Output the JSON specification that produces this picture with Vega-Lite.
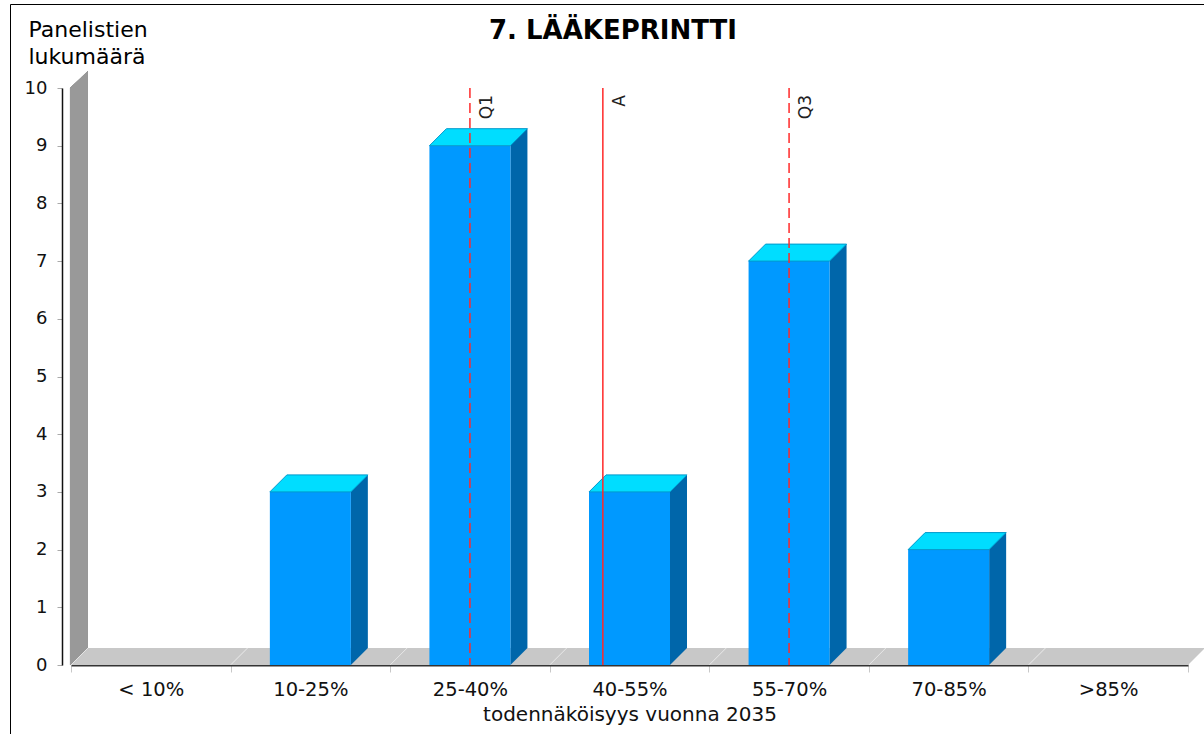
{
  "$schema": "https://vega.github.io/schema/vega-lite/v6.json",
  "width": 1200,
  "height": 740,
  "autosize": {"type": "none"},
  "padding": {"left": 10, "top": 4, "right": 0, "bottom": 0},
  "background": "white",
  "config": {
    "view": {"stroke": "#000000", "strokeWidth": 1, "fill": "white"},
    "font": "DejaVu Sans"
  },
  "title": {
    "text": "7. LÄÄKEPRINTTI",
    "font": "DejaVu Sans",
    "fontSize": 26,
    "fontWeight": "bold",
    "color": "#000000",
    "anchor": "middle",
    "frame": "group",
    "baseline": "alphabetic",
    "offset": -61,
    "dx": 3
  },
  "datasets": {
    "jakauma": [
      {"cat": "< 10%", "n": 0},
      {"cat": "10-25%", "n": 3},
      {"cat": "25-40%", "n": 9},
      {"cat": "40-55%", "n": 3},
      {"cat": "55-70%", "n": 7},
      {"cat": "70-85%", "n": 2},
      {"cat": ">85%", "n": 0}
    ],
    "tunnusluvut": [
      {"label": "Q1", "pos": 2.5, "tyyppi": "kvartiili"},
      {"label": "A", "pos": 3.333, "tyyppi": "keskiarvo"},
      {"label": "Q3", "pos": 4.5, "tyyppi": "kvartiili"}
    ]
  },
  "layer": [
    {
      "data": {"name": "jakauma"},
      "encoding": {
        "x": {
          "field": "cat",
          "type": "nominal",
          "sort": null,
          "scale": {
            "domain": ["< 10%", "10-25%", "25-40%", "40-55%", "55-70%", "70-85%", ">85%"],
            "range": [61, 1178],
            "paddingInner": 0,
            "paddingOuter": 0
          },
          "axis": {
            "orient": "bottom",
            "offset": -79,
            "title": "todennäköisyys vuonna 2035",
            "titleFont": "DejaVu Sans",
            "titleFontSize": 20,
            "titleFontWeight": "normal",
            "titleColor": "#111111",
            "titleBaseline": "alphabetic",
            "titleY": 55,
            "labelFont": "DejaVu Sans",
            "labelFontSize": 19.5,
            "labelColor": "#111111",
            "labelAngle": 0,
            "labelBaseline": "alphabetic",
            "labelPadding": 23,
            "domainColor": "#333333",
            "domainWidth": 2,
            "tickColor": "#C8C8C8",
            "tickSize": 7,
            "tickWidth": 1,
            "tickBand": "extent",
            "grid": false
          }
        }
      },
      "layer": [
        {
          "mark": {"type": "bar", "width": 18, "xOffset": -71.8, "yOffset": -17, "color": "#999999"},
          "encoding": {
            "x": {"datum": "< 10%", "type": "nominal"},
            "y": {"datum": 10, "type": "quantitative"},
            "y2": {"datum": 0}
          }
        },
        {
          "mark": {"type": "point", "shape": "M -81.8 0 L -81.8 -18 L -62.8 -18 Z", "size": 4, "filled": true, "opacity": 1, "color": "white", "strokeWidth": 0},
          "encoding": {
            "x": {"datum": "< 10%", "type": "nominal"},
            "y": {"datum": 10, "type": "quantitative"}
          }
        },
        {
          "mark": {"type": "point", "shape": "M -79.8 0 L 79.8 0 L 96.8 -17 L -62.8 -17 Z", "size": 4, "filled": true, "opacity": 1, "color": "#C8C8C8", "strokeWidth": 0},
          "encoding": {
            "y": {"datum": 0, "type": "quantitative"}
          }
        },
        {
          "mark": {"type": "point", "shape": "M -79.8 0 L -62.8 -17", "size": 4, "filled": false, "opacity": 1, "stroke": "#E6E6E6", "strokeWidth": 1},
          "encoding": {
            "y": {"datum": 0, "type": "quantitative"}
          }
        },
        {
          "transform": [{"filter": "datum.n > 0"}],
          "mark": {"type": "bar", "width": 17, "xOffset": 49, "yOffset": -17, "y2Offset": -17, "color": "#0066AA"},
          "encoding": {
            "y": {"field": "n", "type": "quantitative"},
            "y2": {"datum": 0}
          }
        },
        {
          "transform": [{"filter": "datum.n > 0"}],
          "mark": {"type": "point", "shape": "M 40.5 0 L 40.5 -17 L 57.5 -17 Z", "size": 4, "filled": true, "opacity": 1, "color": "#0066AA", "strokeWidth": 0},
          "encoding": {
            "y": {"datum": 0, "type": "quantitative"}
          }
        },
        {
          "transform": [{"filter": "datum.n > 0"}],
          "mark": {"type": "bar", "width": 81, "color": "#0099FF"},
          "encoding": {
            "y": {
              "field": "n",
              "type": "quantitative",
              "scale": {"domain": [0, 10], "range": [661, 84], "nice": false, "zero": true},
              "axis": {
                "orient": "left",
                "offset": -52,
                "values": [0, 1, 2, 3, 4, 5, 6, 7, 8, 9, 10],
                "format": "d",
                "grid": false,
                "domainColor": "#111111",
                "domainWidth": 1.5,
                "tickColor": "#AAAAAA",
                "tickSize": 5,
                "labelFont": "DejaVu Sans",
                "labelFontSize": 18,
                "labelColor": "#111111",
                "labelPadding": 10,
                "labelBaseline": "middle",
                "title": ["Panelistien", "lukumäärä"],
                "titleFont": "DejaVu Sans",
                "titleFontSize": 22,
                "titleFontWeight": "normal",
                "titleColor": "#000000",
                "titleAngle": 0,
                "titleAlign": "left",
                "titleBaseline": "alphabetic",
                "titleLineHeight": 26.5,
                "titleX": -34,
                "titleY": 32.7
              }
            }
          }
        },
        {
          "transform": [{"filter": "datum.n > 0"}],
          "mark": {"type": "point", "shape": "M -40.5 0 L 40.5 0 L 57.5 -17 L -23.5 -17 Z", "size": 4, "filled": true, "opacity": 1, "fill": "#00DDFF", "stroke": "#0099CC", "strokeWidth": 1},
          "encoding": {
            "y": {"field": "n", "type": "quantitative"}
          }
        }
      ]
    },
    {
      "data": {"name": "tunnusluvut"},
      "encoding": {
        "x": {
          "field": "pos",
          "type": "quantitative",
          "scale": {"domain": [0, 7], "range": [61, 1178], "nice": false, "zero": false},
          "axis": null
        }
      },
      "layer": [
        {
          "mark": {"type": "rule", "color": "#FF2A2A", "strokeWidth": 1.5},
          "encoding": {
            "y": {"datum": 10, "type": "quantitative"},
            "y2": {"datum": 0},
            "strokeDash": {
              "field": "tyyppi",
              "type": "nominal",
              "scale": {"domain": ["kvartiili", "keskiarvo"], "range": [[10, 5], [1, 0]]},
              "legend": null
            }
          }
        },
        {
          "mark": {"type": "text", "angle": 270, "align": "right", "baseline": "alphabetic", "xOffset": 22, "yOffset": 7, "fontSize": 17, "font": "DejaVu Sans", "color": "#222222"},
          "encoding": {
            "y": {"datum": 10, "type": "quantitative"},
            "text": {"field": "label"}
          }
        }
      ]
    }
  ],
  "resolve": {"scale": {"x": "independent"}}
}
